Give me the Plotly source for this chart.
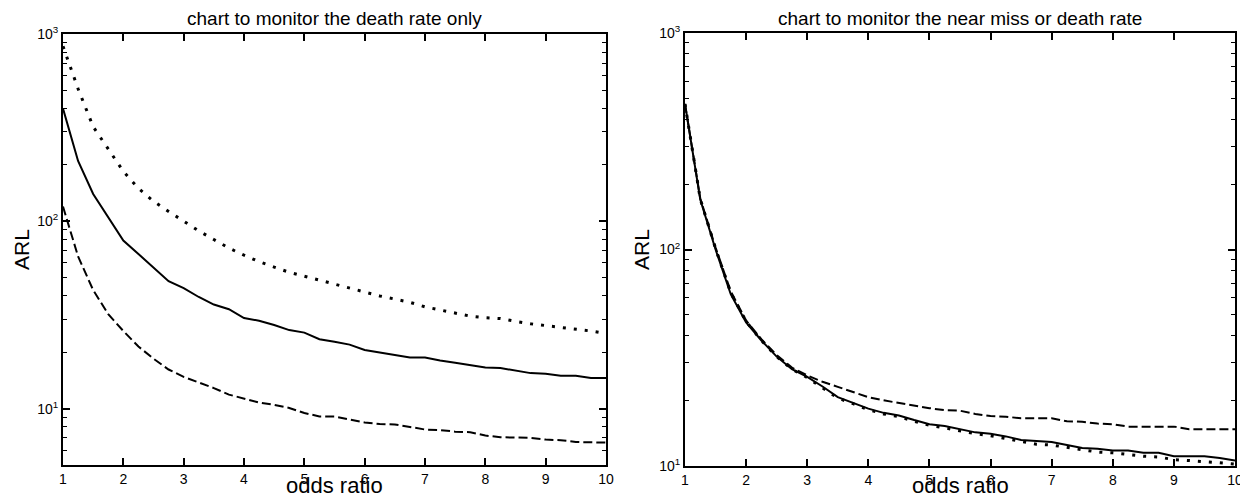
import plotly.graph_objects as go

# ---------------- data ----------------
odds_ratio = [1.0, 1.25, 1.5, 1.75, 2.0, 2.25, 2.5, 2.75, 3.0, 3.25, 3.5, 3.75,
              4.0, 4.25, 4.5, 4.75, 5.0, 5.25, 5.5, 5.75, 6.0, 6.25, 6.5, 6.75,
              7.0, 7.25, 7.5, 7.75, 8.0, 8.25, 8.5, 8.75, 9.0, 9.25, 9.5, 9.75, 10.0]

# left panel: chart to monitor the death rate only
death_solid = [400, 210, 140, 105, 79, 67, 57, 48, 44, 39.5, 36, 34,
               30.5, 29.5, 28, 26.3, 25.5, 23.5, 22.8, 22, 20.6, 20, 19.4, 18.8,
               18.8, 18.1, 17.6, 17.1, 16.6, 16.5, 16, 15.5, 15.4, 15.0, 15.0, 14.6, 14.6]
death_dashed = [120, 65, 43, 32, 26, 21.5, 18.5, 16.2, 14.8, 13.8, 12.9, 11.9,
                11.3, 10.8, 10.5, 10.1, 9.5, 9.1, 9.1, 8.8, 8.45, 8.3, 8.25, 8.0,
                7.75, 7.7, 7.55, 7.5, 7.2, 7.05, 7.05, 7.0, 6.85, 6.8, 6.65, 6.6, 6.6]
death_dotted = [860, 510, 320, 245, 185, 150, 128, 113, 100, 89, 80, 72,
                66, 61, 57, 53.5, 51, 48.5, 46.5, 44, 42, 40, 38.5, 37,
                35, 33.6, 32.4, 31.2, 30.6, 30.3, 29.3, 28.4, 27.8, 27.2, 26.6, 26, 25.2]

# right panel: chart to monitor the near miss or death rate
near_solid = [470, 170, 100, 62, 46, 38, 32, 28, 25.8, 23.3, 20.8, 19.6,
              18.4, 17.6, 17.1, 16.3, 15.6, 15.3, 14.8, 14.3, 14.1, 13.7, 13.2, 13.0,
              12.9, 12.5, 12.1, 12.0, 11.8, 11.8, 11.5, 11.5, 11.1, 11.1, 11.1, 10.9, 10.6]
near_dashed = [470, 172, 102, 64, 47, 38.5, 32.5, 28.5, 26.2, 24.5, 23.2, 22,
               20.8, 20.1, 19.5, 19, 18.5, 18.1, 18.0, 17.4, 17.0, 16.9, 16.6, 16.6,
               16.6, 16.1, 16.0, 15.7, 15.6, 15.2, 15.2, 15.2, 15.2, 14.8, 14.8, 14.8, 14.8]
near_dotted = [470, 171, 101, 63, 46.5, 38, 32, 28, 25.6, 23.0, 20.6, 19.4,
               18.2, 17.4, 16.9, 16.1, 15.4, 15.0, 14.5, 14.1, 13.8, 13.4, 13.0, 12.6,
               12.5, 12.2, 11.9, 11.6, 11.5, 11.3, 11.1, 11.0, 10.7, 10.6, 10.5, 10.35, 10.2]

x_ticks = [1, 2, 3, 4, 5, 6, 7, 8, 9, 10]
y_major = [10, 100, 1000]
y_major_text = ["10<sup>1</sup>", "10<sup>2</sup>", "10<sup>3</sup>"]
y_minor_left = [6, 7, 8, 9, 20, 30, 40, 50, 60, 70, 80, 90,
                200, 300, 400, 500, 600, 700, 800, 900]
y_minor_right = [20, 30, 40, 50, 60, 70, 80, 90,
                 200, 300, 400, 500, 600, 700, 800, 900]

titles = ["chart to monitor the death rate only",
          "chart to monitor the near miss or death rate"]
x_title = "odds ratio"
y_title = "ARL"

# ---------------- figure ----------------
# the page body has an 8px margin; the figure fills the rest of the 1248x500 window
OFF = 8
W, H = 1248 - OFF, 500 - OFF
FONT = "Liberation Sans, Arial, Helvetica, sans-serif"

def px(x):  # window x -> paper fraction
    return (x - OFF) / W

def py(y):  # window y -> paper fraction
    return 1 - (y - OFF) / H

fig = go.Figure()

def add_series(xa, ya, ys, dash, width):
    fig.add_trace(go.Scatter(x=odds_ratio, y=ys, mode="lines", xaxis=xa, yaxis=ya,
                             line=dict(color="black", width=width, dash=dash),
                             showlegend=False, hoverinfo="skip"))

add_series("x", "y", death_dotted, "3px,8px", 3)
add_series("x", "y", death_solid, "solid", 2)
add_series("x", "y", death_dashed, "9px,4px", 2)

add_series("x2", "y2", near_dotted, "3px,8px", 3)
add_series("x2", "y2", near_dashed, "9px,4px", 2)
add_series("x2", "y2", near_solid, "solid", 2)

xdom1 = [px(63), px(606)]
xdom2 = [px(685), px(1235)]
ydom1 = [py(465), py(34)]
ydom2 = [py(466), py(33)]

tickfont = dict(family=FONT, size=14, color="black")

xcommon = dict(range=[1, 10], tickmode="array", tickvals=x_ticks,
               ticks="inside", ticklen=7, tickwidth=1.5, tickcolor="black",
               showline=True, linewidth=2, linecolor="black", mirror="ticks",
               showgrid=False, zeroline=False, tickfont=tickfont, automargin=False)

def ycommon(rng, minor_vals):
    return dict(type="log", range=rng, tickmode="array", tickvals=y_major,
                ticktext=y_major_text, ticks="inside", ticklen=7, tickwidth=1.5,
                tickcolor="black", showline=True, linewidth=2, linecolor="black",
                mirror="ticks", showgrid=False, zeroline=False, automargin=False,
                tickfont=dict(family=FONT, size=14, color="black"),
                minor=dict(tickmode="array", tickvals=minor_vals, ticks="inside",
                           ticklen=4, tickwidth=1.2, tickcolor="black", showgrid=False))

fig.update_layout(
    width=W, height=H,
    margin=dict(l=0, r=0, t=0, b=0, autoexpand=False),
    paper_bgcolor="white", plot_bgcolor="white",
    xaxis=dict(domain=xdom1, anchor="y", **xcommon),
    yaxis=dict(domain=ydom1, anchor="x", **ycommon([0.70, 3], y_minor_left)),
    xaxis2=dict(domain=xdom2, anchor="y2", **xcommon),
    yaxis2=dict(domain=ydom2, anchor="x2", **ycommon([1, 3], y_minor_right)),
)

ann = []
centers = [(xdom1[0] + xdom1[1]) / 2, (xdom2[0] + xdom2[1]) / 2]
for cx, t in zip(centers, titles):
    ann.append(dict(text=t, x=cx, y=py(19), xref="paper", yref="paper",
                    xanchor="center", yanchor="middle", showarrow=False,
                    font=dict(family=FONT, size=19, color="black")))
    ann.append(dict(text=x_title, x=cx, y=py(485), xref="paper", yref="paper",
                    xanchor="center", yanchor="middle", showarrow=False,
                    font=dict(family=FONT, size=22, color="black")))
for lx in [21, 641]:
    ann.append(dict(text=y_title, x=px(lx), y=py(250), xref="paper", yref="paper",
                    xanchor="center", yanchor="middle", showarrow=False, textangle=-90,
                    font=dict(family=FONT, size=21, color="black")))
fig.update_layout(annotations=ann)

fig.write_html("out.html")
